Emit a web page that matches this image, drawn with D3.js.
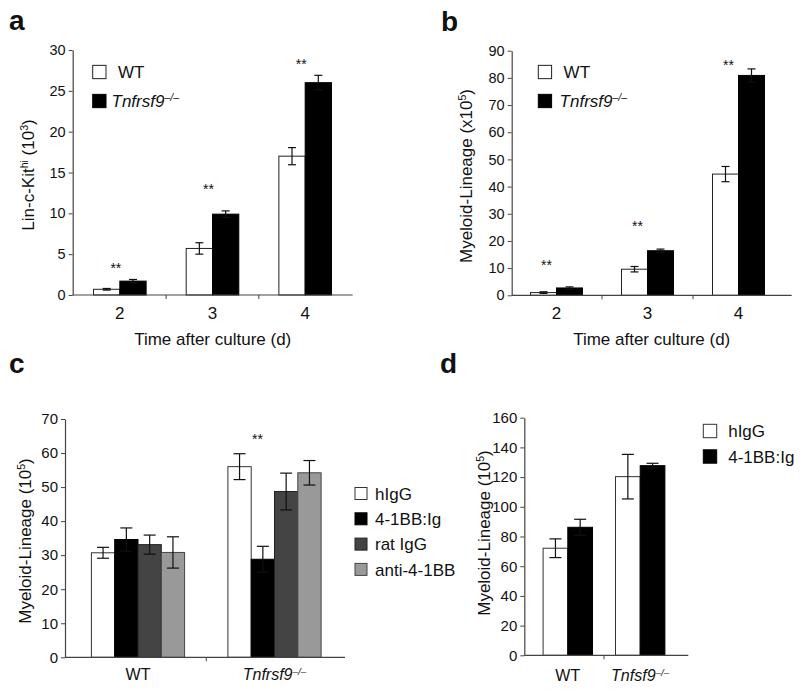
<!DOCTYPE html>
<html><head><meta charset="utf-8">
<script src="https://cdn.jsdelivr.net/npm/d3@7"></script>
<style>
body{margin:0;background:#fff}
svg{display:block}
text{font-family:"Liberation Sans",Arial,Helvetica,sans-serif;fill:#111}
</style>
</head><body>
<svg id="fig" width="800" height="691"></svg>
<script>
// ---------- DATA ----------
const timeDays = ["2", "3", "4"];
// panel a: Lin- c-Kit hi (10^3)
const aWT = [0.7, 5.7, 17.0];
const aWTerr = [0.1, 0.7, 1.05];
const aKO = [1.7, 9.9, 26.0];
const aKOerr = [0.2, 0.4, 0.9];
const aStars = [3.7, 13.3, 28.6];
const aTicks = [0, 5, 10, 15, 20, 25, 30];
// panel b: Myeloid-lineage (x10^5)
const bWT = [1.0, 9.6, 44.6];
const bWTerr = [0.3, 1.0, 2.8];
const bKO = [2.7, 16.4, 80.9];
const bKOerr = [0.4, 0.6, 2.4];
const bStars = [12.3, 26.7, 85.8];
const bTicks = [0, 10, 20, 30, 40, 50, 60, 70, 80, 90];
// panel c
const cGroups = ["WT", "Tnfrsf9"];
const cSeries = ["hIgG", "4-1BB:Ig", "rat IgG", "anti-4-1BB"];
const cHIgG = [30.7, 56.0];
const cHIgGerr = [1.6, 3.8];
const c41BB = [34.6, 28.8];
const c41BBerr = [3.4, 3.8];
const cRatIgG = [33.1, 48.7];
const cRatIgGerr = [2.8, 5.4];
const cAnti = [30.8, 54.2];
const cAntiErr = [4.6, 3.6];
const cStars = [null, 65.1];
const cTicks = [0, 10, 20, 30, 40, 50, 60, 70];
// panel d
const dGroups = ["WT", "Tnfsf9"];
const dSeries = ["hIgG", "4-1BB:Ig"];
const dHIgG = [72.1, 120.3];
const dHIgGerr = [6.3, 15.0];
const d41BB = [86.2, 127.7];
const d41BBerr = [5.4, 1.6];
const dTicks = [0, 20, 40, 60, 80, 100, 120, 140, 160];

// ---------- HELPERS ----------
const svg = d3.select("#fig");
const AX = "#444";
const SUP = "\u2013/\u2013";

function rich(sel, parts) {
  parts.forEach(p => {
    const t = sel.append("tspan").text(p.t);
    if (p.sup) t.attr("baseline-shift", "super").attr("font-size", "62%");
    if (p.it) t.attr("font-style", "italic");
  });
  return sel;
}

function panel(cfg) {
  const g = svg.append("g");
  const x = d3.scaleBand().domain(cfg.groups).range(cfg.xRange);
  const inner = d3.scaleBand().domain(cfg.series.map(s => s.name))
    .range([-cfg.series.length * cfg.barW / 2, cfg.series.length * cfg.barW / 2]);
  const y = d3.scaleLinear().domain(cfg.yDomain).range(cfg.yRange);

  // bars
  cfg.series.forEach(s => {
    const sg = g.append("g");
    sg.selectAll("rect").data(cfg.groups.map((gr, i) => ({gr, v: s.values[i]})))
      .join("rect")
      .attr("x", d => x(d.gr) + x.bandwidth() / 2 + inner(s.name))
      .attr("y", d => y(d.v))
      .attr("width", inner.bandwidth())
      .attr("height", d => y(0) - y(d.v))
      .attr("fill", s.color)
      .attr("stroke", s.stroke)
      .attr("stroke-width", 1);
  });
  // error bars
  cfg.series.forEach(s => {
    const eg = g.append("g").attr("stroke", "#111").attr("stroke-width", 1.2).attr("fill", "none");
    cfg.groups.forEach((gr, i) => {
      const cx = x(gr) + x.bandwidth() / 2 + inner(s.name) + inner.bandwidth() / 2;
      const v = s.values[i], e = s.err[i];
      const y1 = y(v + e), y2 = y(v - e);
      const hw = cfg.capW / 2;
      eg.append("line").attr("x1", cx).attr("x2", cx).attr("y1", y1).attr("y2", y2);
      eg.append("line").attr("x1", cx - hw).attr("x2", cx + hw).attr("y1", y1).attr("y2", y1);
      eg.append("line").attr("x1", cx - hw).attr("x2", cx + hw).attr("y1", y2).attr("y2", y2);
    });
  });

  // y axis
  const ya = g.append("g").attr("transform", `translate(${cfg.axisX0},0)`)
    .call(d3.axisLeft(y).tickValues(cfg.ticks).tickSize(4).tickSizeOuter(0).tickPadding(3));
  ya.select(".domain").attr("stroke", AX).attr("stroke-width", 1.2);
  ya.selectAll(".tick line").attr("stroke", AX);
  ya.selectAll(".tick text").attr("font-size", cfg.tickFont).attr("fill", "#111")
    .attr("font-family", "Liberation Sans, Arial, sans-serif");

  // x axis line
  g.append("line").attr("x1", cfg.axisX0).attr("x2", cfg.axisX1)
    .attr("y1", y(0)).attr("y2", y(0)).attr("stroke", AX).attr("stroke-width", 1.2);
  // separator ticks
  cfg.groups.slice(1).forEach(gr => {
    g.append("line").attr("x1", x(gr)).attr("x2", x(gr))
      .attr("y1", y(0)).attr("y2", y(0) + 4).attr("stroke", AX).attr("stroke-width", 1);
  });
  // category labels
  cfg.groups.forEach((gr, i) => {
    const t = g.append("text").attr("x", x(gr) + x.bandwidth() / 2).attr("y", cfg.catY)
      .attr("text-anchor", "middle").attr("font-size", cfg.catFont);
    rich(t, cfg.catLabels[i]);
  });
  // stars
  if (cfg.stars) {
    cfg.stars.forEach((sv, i) => {
      if (sv == null) return;
      g.append("text").attr("x", x(cfg.groups[i]) + x.bandwidth() / 2 + cfg.starDx)
        .attr("y", y(sv) + 8).attr("text-anchor", "middle").attr("font-size", 14).text("**");
    });
  }
  // x title
  if (cfg.xTitle) {
    g.append("text").attr("x", (cfg.axisX0 + cfg.axisX1) / 2).attr("y", cfg.xTitleY)
      .attr("text-anchor", "middle").attr("font-size", 17).text(cfg.xTitle);
  }
  // y title
  const yt = g.append("text")
    .attr("transform", `translate(${cfg.yTitleX},${cfg.yTitleY}) rotate(-90)`)
    .attr("text-anchor", "middle").attr("font-size", 17);
  rich(yt, cfg.yTitle);

  // legend
  cfg.series.forEach((s, i) => {
    const ly = cfg.legY + i * cfg.legStep;
    g.append("rect").attr("x", cfg.legX).attr("y", ly - cfg.legSq / 2)
      .attr("width", cfg.legSq).attr("height", cfg.legSq)
      .attr("fill", s.color).attr("stroke", s.stroke).attr("stroke-width", 1);
    const t = g.append("text").attr("x", cfg.legX + cfg.legSq + cfg.legGap[i])
      .attr("y", ly + cfg.legFont * 0.36).attr("font-size", cfg.legFont);
    rich(t, s.label);
  });

  // panel letter
  g.append("text").attr("x", cfg.letterX).attr("y", cfg.letterY)
    .attr("font-size", 28).attr("font-weight", "bold").attr("fill", "#000").text(cfg.letter);
}

const koLabel = [{t: "Tnfrsf9", it: true}, {t: SUP, sup: true, it: true}];

panel({
  letter: "a", letterX: 9, letterY: 30,
  groups: timeDays,
  catLabels: timeDays.map(d => [{t: d}]),
  series: [
    {name: "WT", values: aWT, err: aWTerr, color: "#fff", stroke: "#222", label: [{t: "WT"}]},
    {name: "KO", values: aKO, err: aKOerr, color: "#000", stroke: "#000", label: koLabel}
  ],
  xRange: [73.5, 351.5], axisX0: 72.7, axisX1: 352.7,
  yDomain: [0, 30], yRange: [295, 50], ticks: aTicks,
  barW: 26.3, capW: 8, tickFont: 14.5, catFont: 17, catY: 319,
  stars: aStars, starDx: -4,
  xTitle: "Time after culture (d)", xTitleY: 345,
  yTitle: [{t: "Lin-c-Kit"}, {t: "hi", sup: true}, {t: " (10"}, {t: "3", sup: true}, {t: ")"}],
  yTitleX: 34, yTitleY: 175,
  legX: 92.7, legY: 72, legStep: 29, legSq: 13.3, legFont: 17, legGap: [12, 5.5]
});

panel({
  letter: "b", letterX: 441, letterY: 30.5,
  groups: timeDays,
  catLabels: timeDays.map(d => [{t: d}]),
  series: [
    {name: "WT", values: bWT, err: bWTerr, color: "#fff", stroke: "#222", label: [{t: "WT"}]},
    {name: "KO", values: bKO, err: bKOerr, color: "#000", stroke: "#000", label: koLabel}
  ],
  xRange: [511, 784], axisX0: 511.7, axisX1: 791.7,
  yDomain: [0, 90], yRange: [295.3, 50.7], ticks: bTicks,
  barW: 26, capW: 8, tickFont: 14.5, catFont: 17, catY: 319,
  stars: bStars, starDx: -10,
  xTitle: "Time after culture (d)", xTitleY: 345,
  yTitle: [{t: "Myeloid-Lineage (x10"}, {t: "5", sup: true}, {t: ")"}],
  yTitleX: 472, yTitleY: 176,
  legX: 538.3, legY: 72, legStep: 29, legSq: 13.3, legFont: 17, legGap: [12, 8]
});

panel({
  letter: "c", letterX: 9, letterY: 373,
  groups: cGroups,
  catLabels: [[{t: "WT"}], koLabel],
  series: [
    {name: "hIgG", values: cHIgG, err: cHIgGerr, color: "#fff", stroke: "#333", label: [{t: cSeries[0]}]},
    {name: "41BB", values: c41BB, err: c41BBerr, color: "#000", stroke: "#000", label: [{t: cSeries[1]}]},
    {name: "rat", values: cRatIgG, err: cRatIgGerr, color: "#444", stroke: "#222", label: [{t: cSeries[2]}]},
    {name: "anti", values: cAnti, err: cAntiErr, color: "#999", stroke: "#444", label: [{t: cSeries[3]}]}
  ],
  xRange: [69.75, 342.75], axisX0: 65, axisX1: 345,
  yDomain: [0, 70], yRange: [657.3, 419], ticks: cTicks,
  barW: 23.3, capW: 12, tickFont: 15, catFont: 16, catY: 680,
  stars: cStars, starDx: -17,
  yTitle: [{t: "Myeloid-Lineage (10"}, {t: "5", sup: true}, {t: ")"}],
  yTitleX: 31, yTitleY: 541,
  legX: 355, legY: 493.5, legStep: 25.3, legSq: 12, legFont: 17, legGap: [8, 8, 8, 8]
});

panel({
  letter: "d", letterX: 440, letterY: 373,
  groups: dGroups,
  catLabels: [[{t: "WT"}], [{t: "Tnfsf9", it: true}, {t: SUP, sup: true, it: true}]],
  series: [
    {name: "hIgG", values: dHIgG, err: dHIgGerr, color: "#fff", stroke: "#333", label: [{t: dSeries[0]}]},
    {name: "41BB", values: d41BB, err: d41BBerr, color: "#000", stroke: "#000", label: [{t: dSeries[1]}]}
  ],
  xRange: [531.6, 676.4], axisX0: 524.3, axisX1: 688.3,
  yDomain: [0, 160], yRange: [655.3, 417.7], ticks: dTicks,
  barW: 24.7, capW: 12, tickFont: 15, catFont: 16, catY: 680.5,
  stars: null,
  yTitle: [{t: "Myeloid-Lineage (10"}, {t: "5", sup: true}, {t: ")"}],
  yTitleX: 490, yTitleY: 533,
  legX: 703.3, legY: 431, legStep: 25.5, legSq: 13.4, legFont: 17, legGap: [11.5, 11.5]
});
</script>
</body></html>
